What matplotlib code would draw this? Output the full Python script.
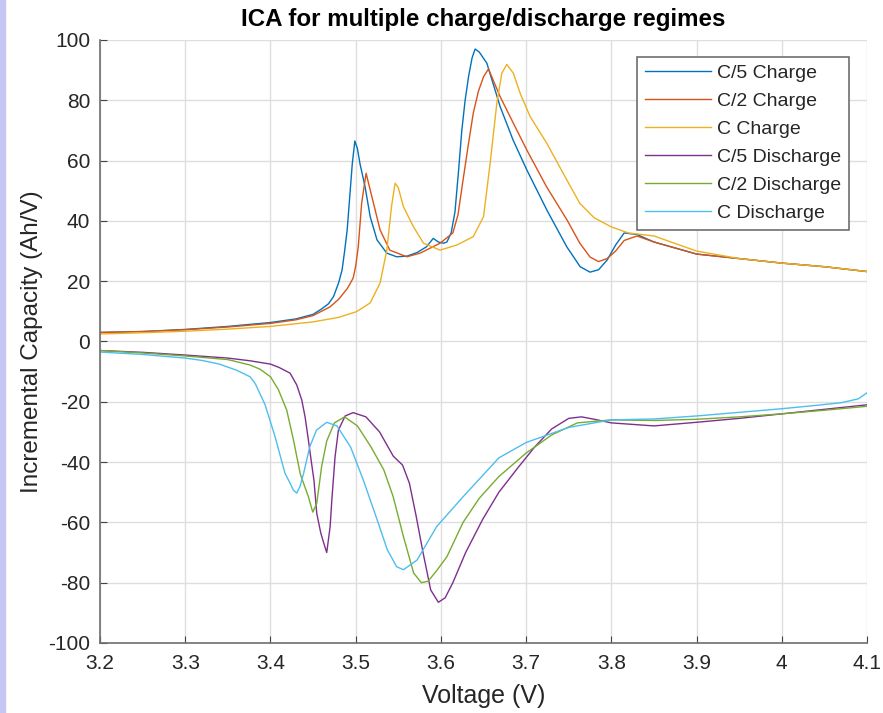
import matplotlib
matplotlib.use("Agg")
import matplotlib.pyplot as plt
from matplotlib.patches import Rectangle

# ICA curves (voltage in V, incremental capacity in Ah/V)
v_c5_chg = [3.20, 3.25, 3.30, 3.35, 3.40, 3.43, 3.45, 3.46, 3.468, 3.474, 3.480, 3.484, 3.487,
            3.490, 3.493, 3.496, 3.499, 3.502, 3.505, 3.511, 3.517, 3.525, 3.5365, 3.548, 3.56,
            3.572, 3.583, 3.591, 3.597, 3.603, 3.607, 3.612, 3.6165, 3.6205, 3.6245, 3.6284,
            3.6325, 3.6365, 3.6401, 3.645, 3.6539, 3.6695, 3.6847, 3.7008, 3.7243, 3.7477,
            3.7634, 3.775, 3.785, 3.795, 3.805, 3.815, 3.83, 3.85, 3.90, 3.95, 4.00, 4.05, 4.10]
q_c5_chg = [3.0, 3.3, 4.0, 5.0, 6.3, 7.5, 9.0, 10.8, 12.5, 14.9, 19.5, 23.7, 30,
            37, 48, 59, 66.5, 64, 59, 51.3, 41.4, 33.7, 29.3, 28.1, 28.3,
            29.5, 31.4, 34.2, 33, 32.6, 33, 36, 43, 56, 70, 80,
            88, 94, 97, 96, 92.3, 77.9, 66.8, 56.9, 43.6, 31.4,
            24.8, 23, 23.8, 27, 32, 36, 35.5, 33, 29, 27.5, 26, 24.8, 23.2]

v_c2_chg = [3.20, 3.25, 3.30, 3.35, 3.40, 3.43, 3.45, 3.47, 3.48, 3.49, 3.497, 3.500, 3.503,
            3.507, 3.5122, 3.519, 3.5286, 3.540, 3.56, 3.5756, 3.599, 3.614, 3.620, 3.626,
            3.632, 3.638, 3.644, 3.650, 3.6558, 3.6695, 3.685, 3.7008, 3.724, 3.748, 3.763,
            3.775, 3.785, 3.795, 3.805, 3.815, 3.83, 3.85, 3.90, 3.95, 4.00, 4.05, 4.10]
q_c2_chg = [3.0, 3.3, 3.9, 4.8, 6.0, 7.2, 8.6, 11.5, 14, 17.5, 21, 25, 31.4,
            45.9, 55.8, 48, 37, 30.3, 28.1, 29.3, 32.6, 36, 42, 53.6,
            65, 75.8, 83, 87.8, 90.4, 81.2, 72.4, 63.5, 51.3, 40.3, 32.6,
            28, 26.5, 27.5, 30, 33.5, 35, 33, 29, 27.5, 26, 24.8, 23.2]

v_c_chg = [3.20, 3.25, 3.30, 3.35, 3.40, 3.45, 3.48, 3.501, 3.517, 3.5286, 3.5365, 3.542,
           3.5462, 3.550, 3.556, 3.5677, 3.5795, 3.599, 3.6187, 3.638, 3.650, 3.6577, 3.6656,
           3.6715, 3.6773, 3.685, 3.693, 3.7047, 3.7243, 3.7477, 3.763, 3.78, 3.80, 3.82,
           3.85, 3.90, 3.95, 4.00, 4.05, 4.10]
q_c_chg = [2.5, 2.9, 3.4, 4.1, 5.0, 6.5, 8.0, 9.9, 12.8, 19.4, 30.3, 44.7,
           52.5, 51, 44.7, 38.1, 32.6, 30.3, 32, 34.8, 41.4, 59, 79,
           89, 91.9, 89, 82.3, 74.6, 65.7, 53.6, 45.8, 41, 38, 36,
           35, 30, 27.5, 26, 24.8, 23.2]

v_c5_dis = [3.20, 3.25, 3.30, 3.35, 3.376, 3.40, 3.41, 3.423, 3.4308, 3.4367, 3.4406, 3.4445,
            3.448, 3.451, 3.4543, 3.459, 3.4621, 3.466, 3.47, 3.472, 3.4758, 3.4797, 3.4876,
            3.497, 3.512, 3.528, 3.544, 3.555, 3.563, 3.571, 3.579, 3.588, 3.597, 3.605, 3.614,
            3.629, 3.649, 3.668, 3.69, 3.71, 3.73, 3.75, 3.765, 3.78, 3.80, 3.85, 3.90, 3.95,
            4.00, 4.05, 4.10]
q_c5_dis = [-3.0, -3.6, -4.5, -5.5, -6.4, -7.5, -8.6, -10.5, -14.4, -19.4, -25, -32.7,
            -40, -46, -57, -63.5, -66.5, -70, -61.4, -52.5, -38.2, -29.4, -24.7,
            -23.6, -25, -30, -38, -41, -47, -58, -70, -82.4, -86.5, -85, -80,
            -70, -59, -50, -42, -35, -29, -25.5, -25, -25.8, -27, -28, -26.8, -25.5,
            -24, -22.5, -21]

v_c2_dis = [3.20, 3.25, 3.30, 3.35, 3.376, 3.3878, 3.40, 3.4093, 3.419, 3.427, 3.435, 3.4445,
            3.4496, 3.4543, 3.46, 3.466, 3.475, 3.487, 3.502, 3.518, 3.533, 3.544, 3.556,
            3.568, 3.577, 3.585, 3.595, 3.607, 3.626, 3.645, 3.668, 3.70, 3.73, 3.76, 3.80,
            3.85, 3.90, 3.95, 4.00, 4.05, 4.10]
q_c2_dis = [-3.0, -3.8, -4.8, -6.0, -7.8, -9.2, -11.7, -16, -22.7, -32.7, -44, -51.5,
            -56.6, -53.7, -41.5, -33, -27, -25, -28, -35, -42.6, -51.5, -64.7,
            -76.8, -80, -79.5, -76, -71.4, -60, -52, -44.8, -37, -31, -27, -26,
            -26.2, -25.8, -25, -24, -22.8, -21.5]

v_c_dis = [3.20, 3.25, 3.30, 3.32, 3.34, 3.36, 3.376, 3.382, 3.3937, 3.4054, 3.417, 3.423,
           3.4269, 3.4308, 3.4347, 3.439, 3.446, 3.454, 3.466, 3.478, 3.494, 3.509, 3.525,
           3.537, 3.548, 3.556, 3.572, 3.595, 3.626, 3.668, 3.70, 3.75, 3.80, 3.85, 3.90,
           3.95, 4.00, 4.04, 4.07, 4.09, 4.10]
q_c_dis = [-3.5, -4.3, -5.5, -6.3, -7.5, -9.5, -11.7, -13.9, -21, -31.6, -43.7, -47,
           -49.3, -50.3, -48, -43.6, -35, -29.4, -26.8, -28, -35, -46, -59,
           -69, -74.7, -75.7, -72.5, -61.4, -51.5, -38.6, -33.5, -28.5, -26, -25.7, -24.7,
           -23.5, -22.3, -21.2, -20.3, -19, -17]

labels = ["C/5 Charge", "C/2 Charge", "C Charge", "C/5 Discharge", "C/2 Discharge", "C Discharge"]
colors = ["#0072BD", "#D95319", "#EDB120", "#7E2F8E", "#77AC30", "#4DBEEE"]
xticks = [3.2, 3.3, 3.4, 3.5, 3.6, 3.7, 3.8, 3.9, 4.0, 4.1]
xticklabels = ["3.2", "3.3", "3.4", "3.5", "3.6", "3.7", "3.8", "3.9", "4", "4.1"]
yticks = [-100, -80, -60, -40, -20, 0, 20, 40, 60, 80, 100]

plt.rcParams["font.family"] = ["Liberation Sans", "DejaVu Sans"]
plt.rcParams["axes.unicode_minus"] = False

fig = plt.figure(figsize=(8.83, 7.13), dpi=100)
ax = fig.add_axes([0.1133, 0.0982, 0.8686, 0.8457])

series = [(v_c5_chg, q_c5_chg), (v_c2_chg, q_c2_chg), (v_c_chg, q_c_chg),
          (v_c5_dis, q_c5_dis), (v_c2_dis, q_c2_dis), (v_c_dis, q_c_dis)]
for (v, q), lab, col in zip(series, labels, colors):
    ax.plot(v, q, color=col, lw=1.0, label=lab)

ax.set_xlim(3.2, 4.1)
ax.set_ylim(-100, 100)
ax.set_xticks(xticks)
ax.set_xticklabels(xticklabels)
ax.set_yticks(yticks)
ax.grid(True, color="#dedede", lw=1.0)
ax.set_axisbelow(True)
for s in ["top", "right"]:
    ax.spines[s].set_visible(False)
for s in ["left", "bottom"]:
    ax.spines[s].set_color("#6e6e6e")
    ax.spines[s].set_linewidth(1.2)
ax.tick_params(direction="in", length=5, color="#444444", labelcolor="#262626")
ax.tick_params(axis="x", pad=8)
ax.tick_params(axis="y", pad=7)
for t in ax.get_xticklabels() + ax.get_yticklabels():
    t.set_family(["Liberation Sans Narrow", "Liberation Sans"])
    t.set_fontsize(15)

ax.set_xlabel("Voltage (V)", fontsize=18, color="#262626", labelpad=8)
ax.set_ylabel("Incremental Capacity (Ah/V)", fontsize=17.5, color="#262626", labelpad=4)
ax.set_title("ICA for multiple charge/discharge regimes", fontsize=17.4,
             fontweight="bold", color="black", pad=10)

leg = ax.legend(loc="upper right", bbox_to_anchor=(0.977, 0.972), fontsize=14,
                frameon=True, fancybox=False, edgecolor="#6e6e6e", framealpha=1,
                handlelength=3.4, handletextpad=0.35, labelspacing=0.53,
                borderpad=0.4, borderaxespad=0)
leg.get_frame().set_linewidth(1.2)
for t in leg.get_texts():
    t.set_color("#262626")

# lavender strip on the left edge of the screenshot
fig.patches.append(Rectangle((0, 0), 0.006, 1, transform=fig.transFigure,
                             color="#c6c6f2", zorder=-1))

fig.savefig("out.png", dpi=100)
